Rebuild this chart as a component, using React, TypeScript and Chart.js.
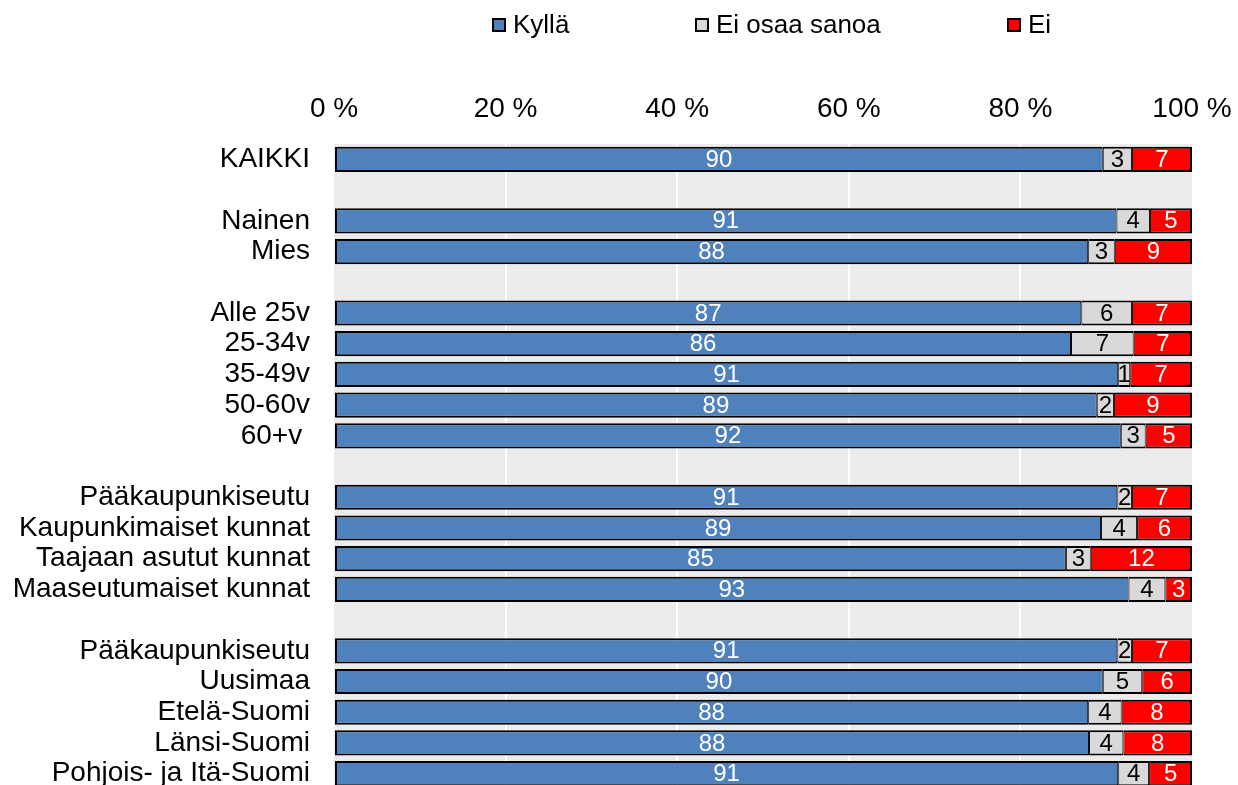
import React, { useEffect, useRef } from 'react';
import { Chart, registerables } from 'chart.js';

Chart.register(...registerables);

const categories = [
  'KAIKKI', '',
  'Nainen', 'Mies', '',
  'Alle 25v', '25-34v', '35-49v', '50-60v', '60+v ', '',
  'Pääkaupunkiseutu', 'Kaupunkimaiset kunnat', 'Taajaan asutut kunnat', 'Maaseutumaiset kunnat', '',
  'Pääkaupunkiseutu', 'Uusimaa', 'Etelä-Suomi', 'Länsi-Suomi', 'Pohjois- ja Itä-Suomi',
];
const kylla = [89.6, null, 91.2, 87.9, null, 87.1, 85.9, 91.4, 88.9, 91.7, null, 91.3, 89.4, 85.3, 92.6, null, 91.3, 89.6, 87.9, 88.0, 91.4];
const eiOsaaSanoa = [3.4, null, 3.9, 3.1, null, 5.9, 7.3, 1.4, 2.0, 2.9, null, 1.7, 4.2, 2.9, 4.3, null, 1.7, 4.6, 3.9, 4.0, 3.6];
const ei = [7.0, null, 4.9, 9.0, null, 7.0, 6.8, 7.2, 9.1, 5.4, null, 7.0, 6.4, 11.8, 3.1, null, 7.0, 5.8, 8.2, 8.0, 5.0];
const seriesNames = ['Kyllä', 'Ei osaa sanoa', 'Ei'];
const xTickValues = [0, 20, 40, 60, 80, 100];

const FONT = "'Liberation Sans', Arial, sans-serif";
const COLORS = ['#4f81bd', '#d9d9d9', '#ff0000'];
const LABEL_COLORS = ['#ffffff', '#000000', '#ffffff'];

function makePattern(ctx: CanvasRenderingContext2D) {
  const c = document.createElement('canvas');
  c.width = 4;
  c.height = 4;
  const p = c.getContext('2d')!;
  p.fillStyle = '#e8e8e8';
  p.fillRect(0, 0, 4, 4);
  p.fillStyle = '#f6f6f6';
  p.fillRect(0, 0, 1, 1);
  p.fillRect(2, 1, 1, 1);
  p.fillRect(1, 2, 1, 1);
  p.fillRect(3, 3, 1, 1);
  return ctx.createPattern(c, 'repeat');
}

const backgroundPlugin = {
  id: 'plotBg',
  beforeDraw(chart: any) {
    const { ctx, chartArea } = chart;
    ctx.save();
    ctx.fillStyle = makePattern(ctx) || '#eeeeee';
    ctx.fillRect(chartArea.left, chartArea.top, chartArea.right - chartArea.left, chartArea.bottom - chartArea.top);
    ctx.restore();
  },
};

const valueLabelPlugin = {
  id: 'valueLabels',
  afterDatasetsDraw(chart: any) {
    const { ctx } = chart;
    ctx.save();
    ctx.font = `24px ${FONT}`;
    ctx.textAlign = 'center';
    ctx.textBaseline = 'middle';
    chart.data.datasets.forEach((ds: any, di: number) => {
      const meta = chart.getDatasetMeta(di);
      meta.data.forEach((el: any, i: number) => {
        const v = ds.data[i];
        if (v === null || v === undefined) return;
        const { x, y, base } = el.getProps(['x', 'y', 'base'], true);
        ctx.fillStyle = LABEL_COLORS[di];
        ctx.fillText(String(Math.round(v)), (x + base) / 2, y + 1);
      });
    });
    ctx.restore();
  },
};

const legendPlugin = {
  id: 'customLegend',
  afterDraw(chart: any) {
    const { ctx } = chart;
    const markerX = [492, 695, 1007];
    const y = 18;
    ctx.save();
    ctx.font = `26px ${FONT}`;
    ctx.textBaseline = 'middle';
    ctx.textAlign = 'left';
    seriesNames.forEach((name, i) => {
      const x = markerX[i];
      ctx.fillStyle = '#000';
      ctx.fillRect(x, y, 14, 14);
      ctx.fillStyle = COLORS[i];
      ctx.fillRect(x + 2, y + 2, 10, 10);
      ctx.fillStyle = '#000';
      ctx.fillText(name, x + 21, y + 8);
    });
    ctx.restore();
  },
};

export default function App() {
  const ref = useRef<HTMLCanvasElement | null>(null);

  useEffect(() => {
    if (!ref.current) return;
    const mk = (label: string, data: (number | null)[], i: number, bw: any) => ({
      label,
      data,
      backgroundColor: COLORS[i],
      borderColor: '#000000',
      borderWidth: bw,
      borderSkipped: false,
      barPercentage: 1,
      categoryPercentage: 0.82,
    });
    const chart = new Chart(ref.current, {
      type: 'bar',
      data: {
        labels: categories,
        datasets: [
          mk(seriesNames[0], kylla, 0, { left: 2, right: 1, top: 2, bottom: 2 }),
          mk(seriesNames[1], eiOsaaSanoa, 1, { left: 1, right: 1, top: 2, bottom: 2 }),
          mk(seriesNames[2], ei, 2, { left: 1, right: 2, top: 2, bottom: 2 }),
        ],
      },
      options: {
        indexAxis: 'y',
        responsive: false,
        animation: false,
        devicePixelRatio: 1,
        layout: { padding: { top: 73.5, right: 46, bottom: 3, left: 0 } },
        plugins: {
          legend: { display: false },
          tooltip: { enabled: false },
        },
        scales: {
          x: {
            position: 'top',
            stacked: true,
            min: 0,
            max: 100,
            afterBuildTicks(scale: any) {
              scale.ticks = xTickValues.map((v) => ({ value: v }));
            },
            afterFit(scale: any) {
              scale.paddingLeft = 0;
              scale.paddingRight = 0;
            },
            ticks: {
              callback: (v: any) => `${v} %`,
              font: { family: FONT, size: 28 },
              color: '#000',
              padding: 18.5,
              maxRotation: 0,
            },
            grid: {
              color: (c: any) => (c.tick && (c.tick.value === 0 || c.tick.value === 100) ? 'rgba(0,0,0,0)' : '#ffffff'),
              lineWidth: 2,
              drawTicks: false,
            },
            border: { display: false },
          },
          y: {
            stacked: true,
            afterFit(scale: any) {
              scale.width = 334;
              scale.paddingTop = 0;
              scale.paddingBottom = 0;
            },
            ticks: {
              autoSkip: false,
              font: { family: FONT, size: 28 },
              color: '#000',
              padding: 24,
            },
            grid: { display: false, drawTicks: false },
            border: { display: false },
          },
        },
      },
      plugins: [backgroundPlugin, valueLabelPlugin, legendPlugin],
    } as any);
    return () => chart.destroy();
  }, []);

  return (
    <div style={{ position: 'fixed', left: 0, top: 0, width: 1238, height: 785, overflow: 'hidden', background: '#fff' }}>
      <canvas ref={ref} width={1238} height={792} />
    </div>
  );
}
